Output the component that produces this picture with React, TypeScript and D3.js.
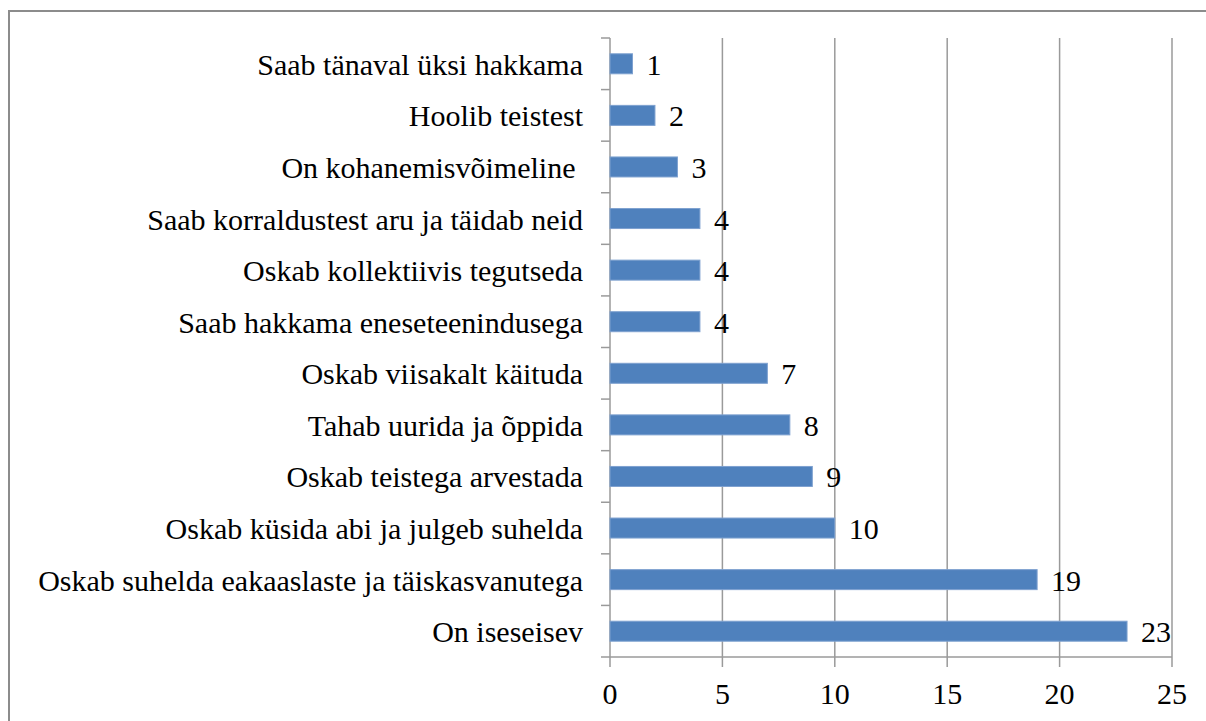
import React from "react";
import * as d3 from "d3";

const categories = [
  "Saab tänaval üksi hakkama",
  "Hoolib teistest",
  "On kohanemisvõimeline ",
  "Saab korraldustest aru ja täidab neid",
  "Oskab kollektiivis tegutseda",
  "Saab hakkama eneseteenindusega",
  "Oskab viisakalt käituda",
  "Tahab uurida ja õppida",
  "Oskab teistega arvestada",
  "Oskab küsida abi ja julgeb suhelda",
  "Oskab suhelda eakaaslaste ja täiskasvanutega",
  "On iseseisev",
];
const values = [1, 2, 3, 4, 4, 4, 7, 8, 9, 10, 19, 23];
const xTicks = [0, 5, 10, 15, 20, 25];

export default function App() {
  const W = 1206, H = 721;
  const left = 610, right = 1172, top = 38, bottom = 657;
  const x = d3.scaleLinear().domain([0, 25]).range([left, right]);
  const band = d3.scaleBand().domain(categories).range([top, bottom]);
  const grid = "#9a9a9a";
  return (
    <svg width={W} height={H} fontFamily="Liberation Serif" style={{ position: "absolute", left: 0, top: 0, background: "#fff" }}>
      <style>{`svg text { font-family: "Liberation Serif", "Times New Roman", serif !important; }`}</style>
      <rect x={9} y={11} width={1210} height={730} fill="#fff" stroke="#8c8c8c" strokeWidth={2} />
      {xTicks.slice(1).map((t) => (
        <line key={"g" + t} x1={x(t)} x2={x(t)} y1={top} y2={bottom} stroke={grid} strokeWidth={1.5} />
      ))}
      {categories.map((c) => (
        <line key={"t" + c} x1={left - 9} x2={left} y1={band(c)!} y2={band(c)!} stroke={grid} strokeWidth={1.5} />
      ))}
      <line x1={left - 9} x2={left} y1={bottom} y2={bottom} stroke={grid} strokeWidth={1.5} />
      <line x1={left} x2={right} y1={bottom} y2={bottom} stroke={grid} strokeWidth={1.5} />
      <line x1={left} x2={left} y1={top} y2={bottom} stroke={grid} strokeWidth={1.5} />
      {xTicks.map((t) => (
        <line key={"xt" + t} x1={x(t)} x2={x(t)} y1={bottom} y2={bottom + 10} stroke={grid} strokeWidth={1.5} />
      ))}
      {xTicks.map((t) => (
        <text key={"xl" + t} x={x(t)} y={704} textAnchor="middle" fontFamily="Liberation Serif" fontSize={30} fill="#000">{t}</text>
      ))}
      {categories.map((c, i) => (
        <rect key={"r" + c} x={x(0)} y={band(c)! + band.bandwidth() / 2 - 10} width={x(values[i]) - x(0)} height={20} fill="#4f81bd" stroke="#7ea1d0" strokeWidth={1} />
      ))}
      {categories.map((c) => (
        <text key={"c" + c} x={left - 27} y={band(c)! + band.bandwidth() / 2 + 11} textAnchor="end" fontFamily="Liberation Serif" fontSize={30} fill="#000" xmlSpace="preserve">{c}</text>
      ))}
      {categories.map((c, i) => (
        <text key={"v" + c} x={x(values[i]) + 14} y={band(c)! + band.bandwidth() / 2 + 11} fontFamily="Liberation Serif" fontSize={30} fill="#000">{values[i]}</text>
      ))}
    </svg>
  );
}
